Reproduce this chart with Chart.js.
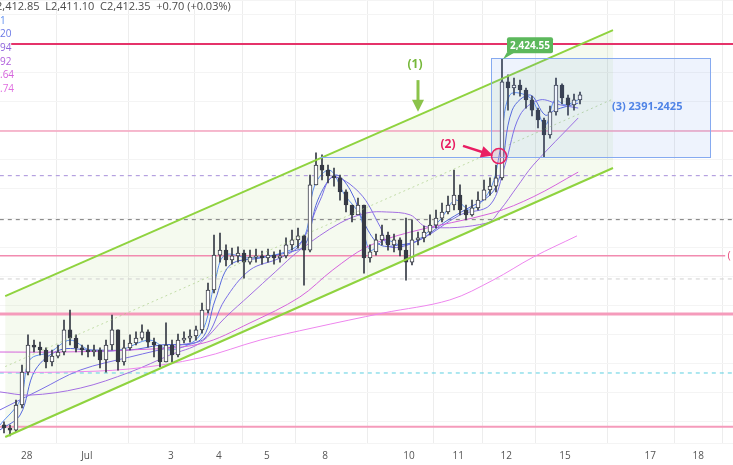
<!DOCTYPE html>
<html><head><meta charset="utf-8">
<script src="https://cdn.jsdelivr.net/npm/chart.js@4.4.1/dist/chart.umd.min.js"></script>
<style>html,body{margin:0;padding:0;background:#fff;overflow:hidden}#wrap{width:733px;height:465px}</style>
</head><body><div id="wrap"><canvas id="c" width="733" height="465"></canvas></div>
<script>
// ---- time axis ----
const tickLabels = ['28','Jul','3','4','5','8','10','11','12','15','17','18'];
const tickSlots  = [3.8,13.8,27.8,35.8,43.8,53.5,67.5,75.7,83.7,93.5,107.7,115.7];

// ---- candles (XAUUSD, one slot per candle) ----
const firstOpen = 2299.0;
const closes = [2297.9,2297.2,2305.8,2317.1,2326.4,2325.7,2324.7,2320.6,2322.6,2324.0,
 2331.6,2328.8,2325.4,2324.7,2324.0,2324.7,2321.3,2326.4,2331.6,2320.6,
 2325.4,2327.1,2328.8,2330.9,2327.4,2326.4,2320.6,2326.4,2323.0,2328.1,
 2328.8,2329.5,2331.6,2338.4,2345.3,2357.3,2359.0,2355.6,2357.0,2358.0,
 2354.9,2356.6,2357.0,2356.3,2357.3,2356.3,2357.0,2360.8,2362.5,2363.9,
 2359.0,2381.4,2388.2,2386.5,2384.5,2383.8,2379.0,2374.5,2371.1,2374.5,
 2356.3,2358.4,2362.5,2364.2,2360.8,2362.5,2359.0,2354.9,2362.5,2363.2,
 2365.2,2367.6,2370.0,2372.1,2374.5,2377.9,2372.8,2371.1,2373.5,2376.2,
 2379.7,2381.0,2383.8,2416.8,2414.7,2415.7,2414.0,2410.6,2407.1,2403.7,
 2398.6,2406.5,2415.7,2411.3,2408.9,2410.6,2412.35];
const highs = [2300.0,2298.9,2307.5,2319.5,2329.9,2328.1,2327.4,2325.4,2324.7,2326.4,
 2335.0,2338.4,2329.9,2326.4,2326.4,2326.4,2325.4,2328.1,2336.7,2331.6,
 2328.1,2329.9,2330.9,2333.3,2331.6,2328.8,2326.4,2334.0,2328.1,2330.2,
 2330.9,2331.6,2332.9,2340.8,2347.7,2364.2,2364.9,2360.8,2359.7,2360.1,
 2359.0,2359.0,2359.4,2358.7,2359.4,2358.4,2359.0,2363.2,2365.9,2366.6,
 2364.2,2384.8,2392.4,2391.7,2388.2,2387.2,2384.8,2379.7,2374.5,2376.9,
 2374.5,2360.8,2364.5,2367.6,2365.2,2364.5,2363.2,2370.0,2369.4,2365.2,
 2367.3,2371.1,2372.8,2375.2,2377.6,2386.5,2381.4,2374.5,2376.2,2379.0,
 2383.1,2383.8,2388.2,2424.55,2419.2,2418.1,2417.4,2414.7,2411.9,2407.8,
 2404.4,2408.5,2418.1,2416.1,2412.3,2412.6,2413.3];
const lows = [2296.2,2295.2,2296.5,2304.8,2316.1,2324.0,2323.0,2318.5,2319.2,2322.0,
 2323.0,2326.4,2324.0,2323.0,2322.3,2322.6,2318.5,2317.1,2324.7,2317.8,
 2319.5,2324.7,2326.4,2328.1,2325.7,2322.3,2318.9,2320.6,2320.6,2322.3,
 2327.1,2327.4,2328.1,2330.5,2337.4,2344.3,2354.9,2353.6,2354.2,2354.9,
 2349.4,2354.2,2354.9,2354.2,2354.9,2354.2,2354.9,2356.3,2359.0,2359.7,
 2347.0,2358.4,2381.4,2383.1,2382.1,2381.0,2376.2,2372.1,2368.7,2372.1,
 2351.1,2354.9,2357.3,2360.8,2359.0,2358.4,2357.0,2348.7,2353.9,2360.8,
 2361.8,2364.2,2366.6,2368.7,2371.4,2372.8,2371.1,2369.4,2370.7,2372.8,
 2376.9,2377.9,2379.0,2383.1,2407.1,2412.3,2411.9,2407.8,2405.1,2401.0,
 2391.0,2397.5,2405.4,2409.2,2405.4,2407.1,2409.2];

// ---- moving averages: [slot, price] ----
const maFast = [[-0.7,2298.9],[2.7,2307.5],[4.3,2321.3],[7.7,2324.0],[11,2328.1],[14.3,2324.7],[19.3,2324.7],[24.3,2328.1],[27.7,2324.7],[32.7,2329.9],[35.2,2348.7],[36.8,2357.3],[41,2356.3],[47.7,2359.0],[50.2,2364.2],[51.8,2381.4],[54.3,2386.5],[56.8,2377.9],[59.3,2371.1],[61,2359.0],[63.5,2362.5],[66,2360.8],[68.5,2361.8],[72.7,2369.4],[75.2,2376.2],[77.7,2372.8],[81,2379.7],[82.7,2393.4],[84.3,2412.3],[87.7,2411.3],[90.2,2402.0],[91.8,2410.6],[93.5,2408.9],[95.7,2410.6]];
const maMid = [[-0.7,2297.2],[2.7,2302.4],[5.2,2317.8],[9.3,2324.7],[14.3,2324.7],[21,2324.7],[26,2326.4],[32.7,2328.1],[35.2,2341.9],[37.7,2353.9],[42.7,2356.3],[47.7,2358.4],[50.2,2360.8],[52.3,2376.2],[55.2,2384.8],[57.7,2379.7],[60.2,2367.6],[62.7,2360.8],[66,2360.8],[69.3,2362.5],[73.5,2368.7],[76.8,2372.8],[81,2377.9],[82.7,2384.8],[84.7,2407.1],[87.7,2412.3],[90.2,2405.4],[91.8,2407.1],[95.7,2409.5]];
const maSlow = [[-0.7,2304.1],[6,2311.0],[12.7,2317.8],[21,2322.3],[29.3,2326.4],[33.5,2328.8],[36.8,2341.9],[41,2352.2],[46,2356.3],[49.3,2360.8],[52.7,2376.2],[54.8,2384.1],[59.3,2378.6],[62.7,2367.0],[64.3,2360.1],[69.3,2362.5],[76,2371.1],[81,2374.5],[83.5,2388.2],[86,2405.4],[89.3,2410.6],[92.7,2408.9],[95.7,2407.8]];
const ma50 = [[-0.7,2310.3],[4.3,2309.2],[12.7,2311.6],[21,2317.1],[27.7,2323.0],[32.7,2327.1],[36.8,2335.7],[41,2343.6],[45.2,2351.5],[49.3,2359.0],[56,2368.3],[60.5,2371.8],[63.8,2372.1],[67.7,2371.1],[70.5,2367.0],[80.5,2368.3],[82.7,2372.8],[85.5,2380.7],[88.2,2388.2],[95.7,2404.4]];
const ma100 = [[-0.7,2324.0],[9.3,2324.0],[21,2324.7],[32.7,2326.8],[41,2334.0],[49.3,2342.9],[54.8,2352.2],[60.5,2360.1],[67.7,2365.2],[81.5,2371.8],[88.2,2377.3],[95.7,2385.8]];
const ma200 = [[-0.7,2317.1],[9.3,2317.1],[21,2318.2],[32.7,2322.0],[42.7,2328.1],[51.5,2332.3],[63.2,2337.4],[74.3,2341.9],[81.5,2348.7],[88.2,2356.6],[95.5,2363.9]];

// ---- drawings ----
const upperChannel = [[0.2,2343.2],[101.5,2434.6]];
const lowerChannel = [[0.2,2294.8],[101.5,2387.2]];
const midChannel   = [[0.2,2319.0],[101.5,2410.9]];
const levelPrices = [2429.8, 2399.9, 2384.6, 2369.5, 2357.1, 2349.1, 2337.1, 2316.8, 2298.3];
const levelStarts = [1.2, -0.7, -0.7, -0.7, -0.7, -0.7, -0.7, -0.7, -0.7];
const levelEnds   = [121.5, 121.5, 121.5, 121.5, 120.2, 121.5, 121.5, 121.5, 121.5];
const boxSlots = [81.2, 117.7];
const boxPrices = [2391, 2425];
const boxLineStart = 52.7;
const peakSlot = 83, peakPrice = 2424.55;

// ---- styles ----
const levelStyles = [
  {c:'#e5336a', w:2,   d:[]},
  {c:'#f4a3bf', w:1.5, d:[]},
  {c:'#b5a1e0', w:1.2, d:[4,4]},
  {c:'#8c8c8c', w:1.2, d:[4,4]},
  {c:'#f28bb0', w:1.5, d:[]},
  {c:'#cfcfcf', w:1,   d:[4,4]},
  {c:'#f59bbb', w:3,   d:[]},
  {c:'#5ccfe0', w:1,   d:[4,4]},
  {c:'#f59bbb', w:2,   d:[]}
];
const pts = a => a.map(p => ({x:p[0], y:p[1]}));
const opens = closes.map((c,i) => i === 0 ? firstOpen : closes[i-1]);
const dark = '#363a45';

const datasets = [];
datasets.push({type:'line', data:pts(upperChannel), borderWidth:0, pointRadius:0, fill:false, order:30});
datasets.push({type:'line', data:pts(lowerChannel), borderWidth:0, pointRadius:0, fill:'-1', backgroundColor:'rgba(139,195,74,0.09)', order:29});
levelPrices.forEach((p,i) => {
  const s = levelStyles[i];
  datasets.push({type:'line', data:[{x:levelStarts[i],y:p},{x:levelEnds[i],y:p}], borderColor:s.c, borderWidth:s.w, borderDash:s.d, pointRadius:0, fill:false, order:20});
});
[[ma200,'#ee86ee'],[ma100,'#d563dc'],[ma50,'#a46fe2'],[maSlow,'#7b6fe6'],[maMid,'#5567dc'],[maFast,'#5d8ef0']].forEach(([a,c]) => {
  datasets.push({type:'line', data:pts(a), borderColor:c, borderWidth:1, pointRadius:0, tension:0.35, fill:false, order:10});
});
datasets.push({type:'bar', data:closes.map((c,i)=>({x:i, y:[lows[i], highs[i]]})), backgroundColor:dark, barThickness:1, grouped:false, order:3});
datasets.push({type:'bar', data:closes.map((c,i)=>({x:i, y:[opens[i], c]})),
  backgroundColor:closes.map((c,i)=> c >= opens[i] ? '#ffffff' : dark), borderColor:dark, borderWidth:1, borderSkipped:false, barThickness:4, grouped:false, order:2});
datasets.push({type:'line', data:pts(midChannel), borderColor:'rgba(160,200,120,0.6)', borderWidth:1, borderDash:[2,3], pointRadius:0, fill:false, order:1});
datasets.push({type:'line', data:pts(upperChannel), borderColor:'#8fd33f', borderWidth:2, pointRadius:0, fill:false, order:1});
datasets.push({type:'line', data:pts(lowerChannel), borderColor:'#8fd33f', borderWidth:2, pointRadius:0, fill:false, order:1});

const FONT = '"Open Sans", "Noto Sans", sans-serif';

const drawings = {
  id:'drawings',
  afterDatasetsDraw(chart){
    const {ctx, scales:{x, y}} = chart;
    const X = v => x.getPixelForValue(v), Y = v => y.getPixelForValue(v);
    ctx.save();
    // box (3)
    const bx0 = X(boxSlots[0]), bx1 = X(boxSlots[1]), by0 = Y(boxPrices[1]), by1 = Y(boxPrices[0]);
    ctx.fillStyle = 'rgba(90,140,235,0.10)';
    ctx.fillRect(bx0, by0, bx1-bx0, by1-by0);
    ctx.strokeStyle = '#86aaf0'; ctx.lineWidth = 1;
    ctx.strokeRect(Math.round(bx0)+0.5, Math.round(by0)+0.5, Math.round(bx1-bx0), Math.round(by1-by0));
    ctx.beginPath(); ctx.moveTo(X(boxLineStart), Math.round(by1)+0.5); ctx.lineTo(bx0, Math.round(by1)+0.5); ctx.stroke();
    ctx.fillStyle = '#4f83e6'; ctx.font = 'bold 11px ' + FONT; ctx.textAlign = 'center'; ctx.textBaseline = 'middle';
    ctx.fillText('(3) 2391-2425', X(107.2), Y(2408.2));
    // peak label
    const px = X(peakSlot), py = Y(peakPrice);
    ctx.fillStyle = '#5cb85c';
    ctx.beginPath();
    const rx = px+5, ry = py-22, rw = 46, rh = 16;
    ctx.roundRect ? ctx.roundRect(rx, ry, rw, rh, 2) : ctx.rect(rx, ry, rw, rh);
    ctx.fill();
    ctx.beginPath(); ctx.moveTo(rx, ry+rh-1); ctx.lineTo(rx+8, ry+rh-1); ctx.lineTo(px+1, py); ctx.closePath(); ctx.fill();
    ctx.fillStyle = '#ffffff'; ctx.font = 'bold 10px ' + FONT;
    ctx.fillText('2,424.55', rx+rw/2, ry+rh/2+0.5);
    // (1) and arrow
    ctx.fillStyle = '#76b83a'; ctx.font = 'bold 12px ' + FONT;
    ctx.fillText('(1)', X(68.5), Y(2422.6));
    const ax = X(69), ay0 = Y(2417.4), ay1 = Y(2406.5);
    ctx.fillStyle = '#8bc34a'; ctx.strokeStyle = '#8bc34a'; ctx.lineWidth = 3;
    ctx.beginPath(); ctx.moveTo(ax, ay0); ctx.lineTo(ax, ay1-10); ctx.stroke();
    ctx.beginPath(); ctx.moveTo(ax-6, ay1-12); ctx.lineTo(ax+6, ay1-12); ctx.lineTo(ax, ay1); ctx.closePath(); ctx.fill();
    // (2) and arrow
    ctx.fillStyle = '#e91e63'; ctx.font = 'bold 12px ' + FONT;
    ctx.fillText('(2)', X(74), Y(2395.4));
    const r0x = X(76.5), r0y = Y(2394.8), r1x = X(81.5), r1y = Y(2391.5);
    const ang = Math.atan2(r1y-r0y, r1x-r0x);
    ctx.strokeStyle = '#e91e63'; ctx.lineWidth = 2.5;
    ctx.beginPath(); ctx.moveTo(r0x, r0y); ctx.lineTo(r1x-9*Math.cos(ang), r1y-9*Math.sin(ang)); ctx.stroke();
    ctx.beginPath();
    ctx.moveTo(r1x, r1y);
    ctx.lineTo(r1x-12*Math.cos(ang)+6*Math.sin(ang), r1y-12*Math.sin(ang)-6*Math.cos(ang));
    ctx.lineTo(r1x-12*Math.cos(ang)-6*Math.sin(ang), r1y-12*Math.sin(ang)+6*Math.cos(ang));
    ctx.closePath(); ctx.fill();
    // circle
    ctx.beginPath(); ctx.arc(X(82.5), Y(2391.3), 7.5, 0, Math.PI*2);
    ctx.fillStyle = 'rgba(233,30,99,0.12)'; ctx.fill();
    ctx.strokeStyle = '#e91e63'; ctx.lineWidth = 1.5; ctx.stroke();
    // right edge label
    ctx.fillStyle = '#e8507f'; ctx.font = '11px ' + FONT; ctx.textAlign = 'left';
    ctx.fillText('(', X(120.6), Y(2357.1));
    // top-left legend
    ctx.textAlign = 'left'; ctx.textBaseline = 'middle';
    ctx.fillStyle = '#4a4a4a'; ctx.font = '11px ' + FONT;
    ctx.fillText('2,412.85  L2,411.10  C2,412.35  +0.70 (+0.03%)', -4, 7);
    const legendVals = ['1','20','94','92','.64','.74'];
    const legendCols = ['#5d8ef0','#6a78e6','#8f66dc','#b15fdc','#d563dc','#e06fe0'];
    ctx.font = '10px ' + FONT;
    legendVals.forEach((t,i) => { ctx.fillStyle = legendCols[i]; ctx.fillText(t, 0, 21 + i*13.6); });
    ctx.restore();
  }
};

new Chart(document.getElementById('c'), {
  type:'bar',
  data:{datasets},
  options:{
    responsive:false, animation:false, devicePixelRatio:1,
    layout:{padding:0},
    plugins:{legend:{display:false}, tooltip:{enabled:false}},
    scales:{
      x:{type:'linear', min:-0.667, max:121.5, offset:false,
        afterBuildTicks:s => { s.ticks = tickSlots.map(v => ({value:v})); },
        afterFit:s => { s.height = 22; },
        ticks:{autoSkip:false, maxRotation:0, color:'#555', font:{size:10, family:FONT}, padding:7,
          callback:(v,i) => tickLabels[i] ?? ''},
        grid:{color:'#ededed', drawTicks:false}, border:{display:false}},
      y:{type:'linear', position:'right', min:2292.75, max:2444.92,
        afterFit:s => { s.width = 0; },
        ticks:{display:false, stepSize:10},
        grid:{color:'#f4f4f4', drawTicks:false}, border:{display:false}}
    }
  },
  plugins:[drawings]
});
</script></body></html>
